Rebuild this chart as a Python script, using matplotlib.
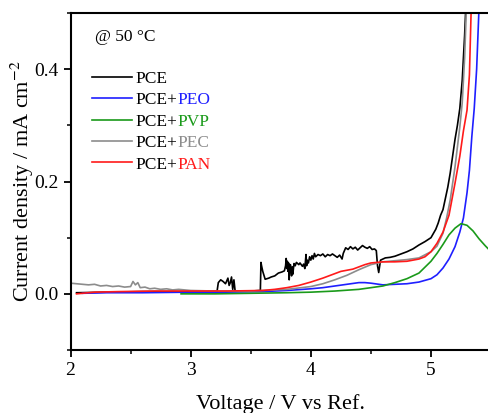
import matplotlib
matplotlib.use("Agg")
import matplotlib.pyplot as plt
from matplotlib.ticker import MultipleLocator

plt.rcParams['font.family'] = ['Liberation Serif', 'DejaVu Serif']
plt.rcParams['mathtext.fontset'] = 'stix'

# PCE (black), (voltage, current density) pairs
pce_points = [
    (2.05, 0.002), (2.3, 0.003), (2.6, 0.004), (3.0, 0.004), (3.22, 0.005),
    (3.23, 0.020), (3.25, 0.025), (3.27, 0.022), (3.29, 0.018), (3.31, 0.028),
    (3.32, 0.015), (3.33, 0.020), (3.34, 0.030), (3.35, 0.008), (3.36, 0.025),
    (3.37, 0.005), (3.5, 0.005), (3.58, 0.006), (3.585, 0.056), (3.59, 0.050),
    (3.60, 0.040), (3.61, 0.033), (3.62, 0.026), (3.65, 0.028), (3.67, 0.030),
    (3.70, 0.032), (3.73, 0.037), (3.76, 0.039), (3.78, 0.041), (3.79, 0.050),
    (3.795, 0.063), (3.80, 0.045), (3.805, 0.058), (3.81, 0.040), (3.815, 0.055),
    (3.82, 0.025), (3.825, 0.045), (3.83, 0.052), (3.84, 0.032), (3.845, 0.048),
    (3.85, 0.035), (3.86, 0.054), (3.87, 0.050), (3.88, 0.056), (3.90, 0.052),
    (3.91, 0.055), (3.93, 0.049), (3.94, 0.053), (3.95, 0.045), (3.96, 0.070),
    (3.965, 0.050), (3.97, 0.060), (3.98, 0.055), (3.99, 0.066), (4.00, 0.060),
    (4.01, 0.068), (4.02, 0.062), (4.03, 0.072), (4.04, 0.066), (4.06, 0.070),
    (4.08, 0.068), (4.10, 0.071), (4.12, 0.066), (4.14, 0.070), (4.16, 0.068),
    (4.18, 0.071), (4.20, 0.068), (4.22, 0.065), (4.24, 0.069), (4.26, 0.062),
    (4.27, 0.072), (4.29, 0.082), (4.31, 0.079), (4.33, 0.084), (4.35, 0.080),
    (4.37, 0.083), (4.39, 0.078), (4.41, 0.082), (4.43, 0.086), (4.45, 0.083),
    (4.47, 0.081), (4.49, 0.084), (4.51, 0.079), (4.53, 0.080), (4.545, 0.077),
    (4.555, 0.050), (4.565, 0.038), (4.58, 0.060), (4.62, 0.064), (4.66, 0.065),
    (4.70, 0.067), (4.75, 0.071), (4.80, 0.075), (4.85, 0.080), (4.90, 0.087),
    (4.95, 0.093), (5.00, 0.100), (5.04, 0.115), (5.06, 0.126), (5.08, 0.140),
    (5.10, 0.150), (5.12, 0.170), (5.14, 0.190), (5.16, 0.215), (5.18, 0.245),
    (5.20, 0.275), (5.22, 0.300), (5.24, 0.330), (5.26, 0.380), (5.28, 0.460),
    (5.29, 0.510),
]
v_pce = [p[0] for p in pce_points]
j_pce = [p[1] for p in pce_points]

# PCE+PEO (blue)
v_peo = [2.1, 2.3, 2.6, 3.0, 3.3, 3.6, 3.8, 4.0, 4.1, 4.2, 4.3, 4.4, 4.45, 4.5, 4.6, 4.7,
         4.8, 4.9, 5.0, 5.05, 5.1, 5.15, 5.2, 5.24, 5.27, 5.3, 5.32, 5.34, 5.36, 5.38, 5.40]
j_peo = [0.001, 0.002, 0.002, 0.003, 0.003, 0.004, 0.006, 0.009, 0.011, 0.014, 0.017, 0.020,
         0.020, 0.019, 0.016, 0.017, 0.018, 0.021, 0.027, 0.034, 0.046, 0.062, 0.084, 0.110,
         0.135, 0.180, 0.220, 0.280, 0.330, 0.400, 0.510]

# PCE+PVP (green)
v_pvp = [2.92, 3.2, 3.5, 3.8, 4.0, 4.2, 4.4, 4.5, 4.6, 4.7, 4.8, 4.9, 5.0, 5.05, 5.1, 5.15,
         5.2, 5.25, 5.3, 5.35, 5.4, 5.45, 5.5]
j_pvp = [0.000, 0.000, 0.001, 0.002, 0.003, 0.005, 0.008, 0.011, 0.014, 0.020, 0.027, 0.037,
         0.058, 0.072, 0.088, 0.105, 0.117, 0.125, 0.122, 0.112, 0.098, 0.086, 0.075]

# PCE+PEC (gray)
v_pec = [2.0, 2.05, 2.1, 2.15, 2.2, 2.25, 2.3, 2.35, 2.4, 2.45, 2.5, 2.52, 2.54, 2.56, 2.58,
         2.62, 2.66, 2.7, 2.75, 2.8, 2.85, 2.9, 3.0, 3.2, 3.5, 3.8, 4.0, 4.1, 4.2, 4.3, 4.4,
         4.5, 4.6, 4.7, 4.8, 4.9, 5.0, 5.05, 5.1, 5.13, 5.16, 5.2, 5.24, 5.26, 5.28, 5.295]
j_pec = [0.019, 0.018, 0.017, 0.016, 0.017, 0.014, 0.015, 0.013, 0.014, 0.012, 0.013, 0.022,
         0.016, 0.020, 0.011, 0.012, 0.009, 0.010, 0.008, 0.009, 0.007, 0.008, 0.006, 0.005,
         0.005, 0.008, 0.013, 0.018, 0.025, 0.033, 0.043, 0.052, 0.057, 0.059, 0.061, 0.064,
         0.075, 0.085, 0.108, 0.135, 0.167, 0.226, 0.297, 0.340, 0.420, 0.510]

# PCE+PAN (red)
v_pan = [2.05, 2.2, 2.4, 2.7, 3.0, 3.3, 3.6, 3.7, 3.8, 3.9, 4.0, 4.1, 4.2, 4.25, 4.3, 4.35,
         4.4, 4.45, 4.5, 4.55, 4.6, 4.7, 4.8, 4.9, 4.95, 5.0, 5.05, 5.1, 5.15, 5.2, 5.24,
         5.27, 5.3, 5.32, 5.335]
j_pan = [0.000, 0.003, 0.004, 0.005, 0.005, 0.005, 0.006, 0.008, 0.011, 0.015, 0.021, 0.028,
         0.036, 0.040, 0.042, 0.044, 0.048, 0.052, 0.055, 0.056, 0.057, 0.057, 0.058, 0.062,
         0.066, 0.075, 0.090, 0.110, 0.140, 0.197, 0.245, 0.290, 0.327, 0.390, 0.510]

series = [
    ("PCE", "", v_pce, j_pce, "#000000"),
    ("PCE+", "PEO", v_peo, j_peo, "#1f1fff"),
    ("PCE+", "PVP", v_pvp, j_pvp, "#1a9a1a"),
    ("PCE+", "PEC", v_pec, j_pec, "#8c8c8c"),
    ("PCE+", "PAN", v_pan, j_pan, "#ff1a1a"),
]

fig = plt.figure(figsize=(4.89, 4.13), dpi=100)
ax = fig.add_axes([0.1442, 0.1525, 0.86, 0.816])

for base, suffix, v, j, c in series:
    ax.plot(v, j, color=c, lw=1.2, label=base)

ax.set_xlim(2, 5.5)
ax.set_ylim(-0.1, 0.5)
ax.xaxis.set_major_locator(MultipleLocator(1))
ax.xaxis.set_minor_locator(MultipleLocator(0.5))
ax.yaxis.set_major_locator(MultipleLocator(0.2))
ax.yaxis.set_minor_locator(MultipleLocator(0.1))
ax.tick_params(which='major', direction='out', length=5, width=1.3, labelsize=14)
ax.tick_params(which='minor', direction='out', length=3, width=1.1)
for s in ['left', 'bottom', 'top']:
    ax.spines[s].set_linewidth(1.5)
ax.spines['right'].set_visible(False)

ax.set_xlabel("Voltage / V vs Ref.", fontsize=16, labelpad=11)
ax.set_ylabel(r"Current density / mA cm$^{-2}$", fontsize=16, labelpad=-1.5)

ax.text(0.058, 0.93, "@ 50 °C", transform=ax.transAxes, fontsize=12.5, va='center')

leg = ax.legend(loc='upper left', bbox_to_anchor=(0.051, 0.828), frameon=False,
                fontsize=12.5, handlelength=2.3, handletextpad=0.2, labelspacing=0.3,
                borderpad=0, borderaxespad=0)
for txt, (base, suffix, v, j, c) in zip(leg.get_texts(), series):
    if suffix:
        ax.annotate(suffix, xy=(1, 0), xycoords=txt, va='bottom', ha='left',
                    fontsize=12.5, color=c, zorder=10)

fig.savefig("out.png", dpi=100)
